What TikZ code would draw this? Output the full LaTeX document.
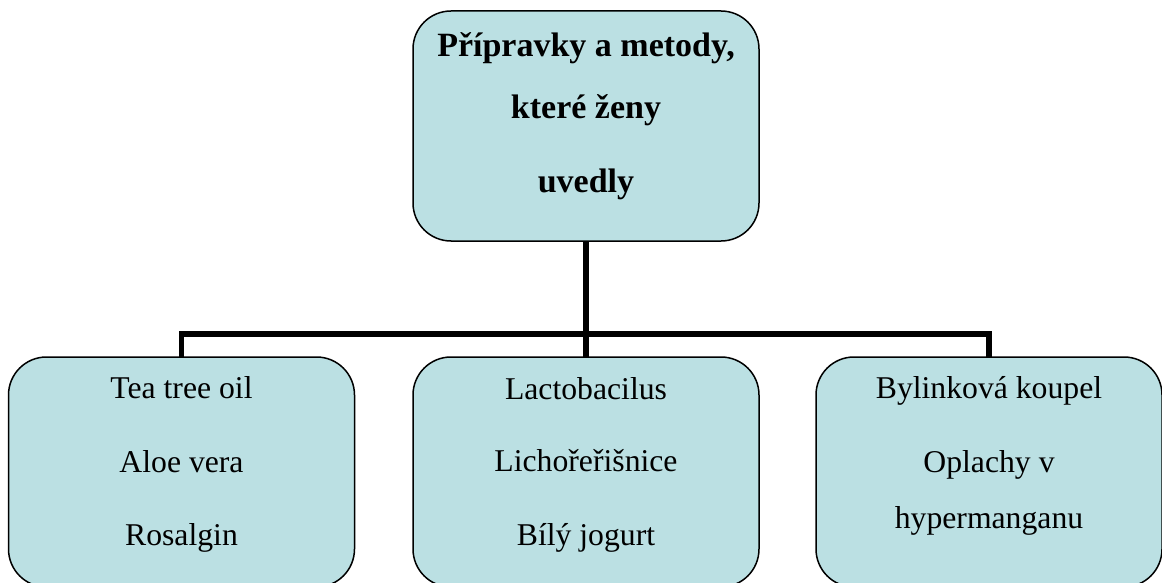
\documentclass[tikz,border=0pt]{standalone}
\usepackage{fontspec}
\setmainfont{Liberation Serif}
\definecolor{boxfill}{RGB}{187,224,227}
\begin{document}
\begin{tikzpicture}[x=1pt,y=-1pt,
  box/.style={draw=black, line width=1.5pt, fill=boxfill, rounded corners=38pt,
    minimum width=346pt, minimum height=230pt, inner sep=0pt, outer sep=0pt},
  conn/.style={draw=black, line width=5.5pt},
  lbl/.style={anchor=base, inner sep=0pt, font=\fontsize{31.7}{38}\selectfont},
  hl/.style={anchor=base, inner sep=0pt, font=\fontsize{34}{40}\selectfont\bfseries}]
\path[use as bounding box] (0,0) rectangle (1162,583);
\clip (0,0) rectangle (1162,583);

% boxes
\node[box] (top) at (586,126) {};
\node[box] (left) at (181.5,472) {};
\node[box] (mid) at (586,472) {};
\node[box] (right) at (989,472) {};

% connectors
\coordinate (hub) at (586,334);
\draw[conn] (top.south) -- (mid.north);
\draw[conn] (left.north) |- (hub) -| (right.north);

% top text
\node[hl] (t1) at (586,57) {Přípravky a metody,};
\node[hl] (t2) at (586,119) {které ženy};
\node[hl] (t3) at (586,193) {uvedly};

% left text
\node[lbl] (l1) at (181.5,398) {Tea tree oil};
\node[lbl] (l2) at (181.5,472) {Aloe vera};
\node[lbl] (l3) at (181.5,545) {Rosalgin};

% middle text
\node[lbl] (m1) at (586,399) {Lactobacilus};
\node[lbl] (m2) at (586,471) {Lichořeřišnice};
\node[lbl] (m3) at (586,545) {Bílý jogurt};

% right text
\node[lbl] (r1) at (989,398) {Bylinková koupel};
\node[lbl] (r2) at (989,472) {Oplachy v};
\node[lbl] (r3) at (989,528) {hypermanganu};
\end{tikzpicture}
\end{document}
